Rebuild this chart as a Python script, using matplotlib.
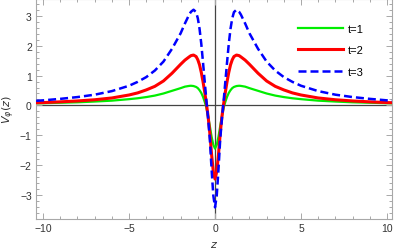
import matplotlib
matplotlib.use('Agg')
import matplotlib.pyplot as plt
from matplotlib.ticker import MultipleLocator

plt.rcParams['font.family'] = ['Liberation Sans', 'DejaVu Sans']

# z samples (denser near the well)
z = [-10.4, -10.0, -9.0, -8.0, -7.0, -6.0, -5.0, -4.5, -4.0, -3.5, -3.0, -2.5, -2.0,
     -1.75, -1.5, -1.4, -1.25, -1.1, -1.0, -0.9, -0.8, -0.7, -0.6, -0.5, -0.4,
     -0.3, -0.2, -0.1, 0.0, 0.1, 0.2, 0.3, 0.4, 0.5, 0.6, 0.7, 0.8, 0.9, 1.0,
     1.1, 1.25, 1.4, 1.5, 1.75, 2.0, 2.5, 3.0, 3.5, 4.0, 4.5, 5.0, 6.0, 7.0,
     8.0, 9.0, 10.0, 10.4]

v_t1 = [0.07, 0.075, 0.09, 0.105, 0.13, 0.16, 0.21, 0.24, 0.28, 0.33, 0.40, 0.49, 0.58,
        0.63, 0.655, 0.66, 0.65, 0.62, 0.58, 0.51, 0.42, 0.29, 0.12, -0.08, -0.38,
        -0.70, -1.05, -1.32, -1.45, -1.32, -1.05, -0.70, -0.38, -0.08, 0.12, 0.29, 0.42,
        0.51, 0.58, 0.62, 0.65, 0.66, 0.655, 0.63, 0.58, 0.49, 0.40, 0.33, 0.28, 0.24,
        0.21, 0.16, 0.13, 0.105, 0.09, 0.075, 0.07]

v_t2 = [0.09, 0.095, 0.12, 0.15, 0.19, 0.25, 0.35, 0.42, 0.52, 0.64, 0.82, 1.08, 1.38,
        1.52, 1.63, 1.67, 1.69, 1.64, 1.53, 1.36, 1.11, 0.80, 0.45, 0.05, -0.38,
        -0.95, -1.65, -2.22, -2.47, -2.22, -1.65, -0.95, -0.38, 0.05, 0.45, 0.80, 1.11,
        1.36, 1.53, 1.64, 1.69, 1.67, 1.63, 1.52, 1.38, 1.08, 0.82, 0.64, 0.52, 0.42,
        0.35, 0.25, 0.19, 0.15, 0.12, 0.095, 0.09]

v_t3 = [0.155, 0.17, 0.22, 0.28, 0.36, 0.48, 0.66, 0.79, 0.95, 1.17, 1.47, 1.90, 2.42,
        2.75, 3.05, 3.14, 3.21, 3.13, 2.92, 2.57, 2.07, 1.45, 0.80, 0.15, -0.45,
        -1.15, -2.15, -3.02, -3.42, -3.02, -2.15, -1.15, -0.45, 0.15, 0.80, 1.45, 2.07,
        2.57, 2.92, 3.13, 3.21, 3.14, 3.05, 2.75, 2.42, 1.90, 1.47, 1.17, 0.95, 0.79,
        0.66, 0.48, 0.36, 0.28, 0.22, 0.17, 0.155]

labels = ['t=1', 't=2', 't=3']

fig = plt.figure(figsize=(3.95, 2.51), dpi=100)
ax = fig.add_axes([36 / 395, 1 - 220 / 251, 356 / 395, 220 / 251])

# axis lines through the origin
ax.axhline(0, color='#444444', lw=0.9, zorder=1)
ax.axvline(0, color='#444444', lw=0.9, zorder=1)

ax.plot(z, v_t1, color='#00ee00', lw=1.6, label=labels[0], zorder=2)
ax.plot(z, v_t2, color='#ff0000', lw=2.2, label=labels[1], zorder=3)
ax.plot(z, v_t3, color='#0000ff', lw=1.8, ls=(0, (3.2, 1.6)), label=labels[2], zorder=4)

ax.set_xlim(-10.41, 10.29)
ax.set_ylim(-3.81, 3.57)

ax.xaxis.set_major_locator(MultipleLocator(5))
ax.xaxis.set_minor_locator(MultipleLocator(1))
ax.yaxis.set_major_locator(MultipleLocator(1))
ax.yaxis.set_minor_locator(MultipleLocator(0.2))

for s in ax.spines.values():
    s.set_color('#a8a8a8')
    s.set_linewidth(0.8)

ax.tick_params(which='both', direction='in', color='#a8a8a8', width=0.7,
               top=True, right=True, labelsize=7.5, labelcolor='#333333')
ax.tick_params(which='major', length=4, pad=3)
ax.tick_params(which='minor', length=2)

ax.set_xlabel('$z$', fontsize=8, color='#333333', labelpad=4)
ax.set_ylabel(r'$V_{\varphi}(z)$', fontsize=8, color='#333333', labelpad=2)

ax.legend(loc='upper left', bbox_to_anchor=(0.736, 0.888), frameon=False,
          fontsize=8, handlelength=4.05, handletextpad=0.45, labelspacing=1.05,
          borderaxespad=0, borderpad=0)

fig.savefig('out.png', dpi=100)
